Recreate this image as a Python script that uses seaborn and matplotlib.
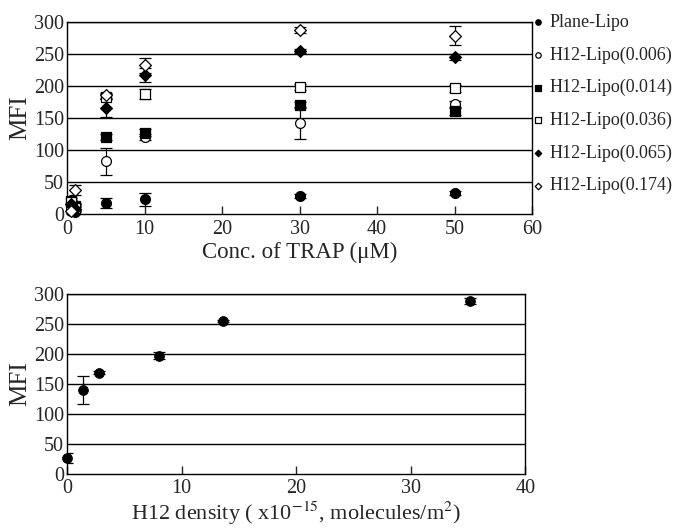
import numpy as np
import pandas as pd
import matplotlib
matplotlib.use("Agg")
import matplotlib.pyplot as plt
import seaborn as sns

# top panel data: MFI vs TRAP concentration
conc = [0.5, 1, 5, 10, 30, 50]
plane = [5, 3, 17, 23, 28, 33]
plane_err = [5, 8, 8, 10, 3, 3]
h006 = [8, 10, 82, 120, 142, 172]
h006_err = [3, 5, 21, 5, 25, 5]
h014 = [20, 12, 120, 127, 170, 160]
h014_err = [5, 5, 5, 5, 5, 5]
h036 = [18, 10, 183, 187, 198, 196]
h036_err = [4, 4, 4, 8, 5, 5]
h065 = [15, 8, 165, 217, 254, 245]
h065_err = [5, 5, 14, 11, 3, 5]
h174 = [4, 38, 185, 232, 287, 278]
h174_err = [3, 8, 4, 12, 5, 15]
labels = ["Plane-Lipo", "H12-Lipo(0.006)", "H12-Lipo(0.014)",
          "H12-Lipo(0.036)", "H12-Lipo(0.065)", "H12-Lipo(0.174)"]

# bottom panel data: MFI vs H12 density
density = [0, 1.4, 2.8, 8, 13.6, 35.2]
mfi = [26, 140, 169, 197, 255, 288]
mfi_err = [8, 24, 3, 6, 2, 5]

sns.set_style("ticks")
plt.rcParams["font.family"] = ["Liberation Serif", "DejaVu Serif"]
plt.rcParams["mathtext.fontset"] = "stix"

fig = plt.figure(figsize=(6.79, 5.31), dpi=100)
ax1 = fig.add_axes([0.0987, 0.597, 0.685, 0.362])
ax2 = fig.add_axes([0.0987, 0.108, 0.675, 0.338])

series = [plane, h006, h014, h036, h065, h174]
errs = [plane_err, h006_err, h014_err, h036_err, h065_err, h174_err]
markers = ["o", "o", "s", "s", "D", "D"]
faces = ["black", "white", "black", "white", "black", "white"]
sizes = [50, 50, 44, 44, 36, 36]

def style_axes(ax, xmax):
    for y in range(50, 301, 50):
        ax.axhline(y, color="black", lw=1.0, zorder=0)
    ax.set_ylim(0, 300)
    ax.set_xlim(0, xmax)
    ax.set_yticks(range(0, 301, 50))
    ax.tick_params(axis="x", direction="in", length=6, width=1, labelsize=14.5, pad=4)
    ax.tick_params(axis="y", length=0, labelsize=14.5, pad=2)
    for sp in ax.spines.values():
        sp.set_linewidth(1.0)
        sp.set_color("black")

style_axes(ax1, 60)
ax1.set_xticks(range(0, 61, 10))
for vals, err, m, fc, s, lab in zip(series, errs, markers, faces, sizes, labels):
    ax1.errorbar(conc, vals, yerr=err, fmt="none", ecolor="black",
                 elinewidth=0.9, capsize=4, capthick=0.9, zorder=2)
    sns.scatterplot(x=conc, y=vals, marker=m, color=fc, edgecolor="black",
                    linewidth=0.9, s=s, ax=ax1, label=lab, zorder=3, clip_on=False)
ax1.set_xlabel("Conc. of TRAP (\u03bcM)", fontsize=16.5, labelpad=2)
ax1.set_ylabel("MFI", fontsize=18, labelpad=2)
leg = ax1.legend(loc="upper left", bbox_to_anchor=(1.0, 1.04), frameon=False,
                 fontsize=13, handlelength=0.6, handletextpad=0.35,
                 labelspacing=0.85, markerscale=0.55, borderaxespad=0, borderpad=0)

style_axes(ax2, 40)
ax2.set_xticks(range(0, 41, 10))
ax2.errorbar(density, mfi, yerr=mfi_err, fmt="none", ecolor="black",
             elinewidth=0.9, capsize=4, capthick=0.9, zorder=2)
sns.scatterplot(x=density, y=mfi, marker="o", color="black", edgecolor="black",
                s=50, ax=ax2, zorder=3, clip_on=False, legend=False)
ax2.set_xlabel("H12 density ( x10$^{-15}$, molecules/m$^{2}$)", fontsize=16, labelpad=1)
ax2.set_ylabel("MFI", fontsize=18, labelpad=2)

fig.savefig("out.png", dpi=100)
